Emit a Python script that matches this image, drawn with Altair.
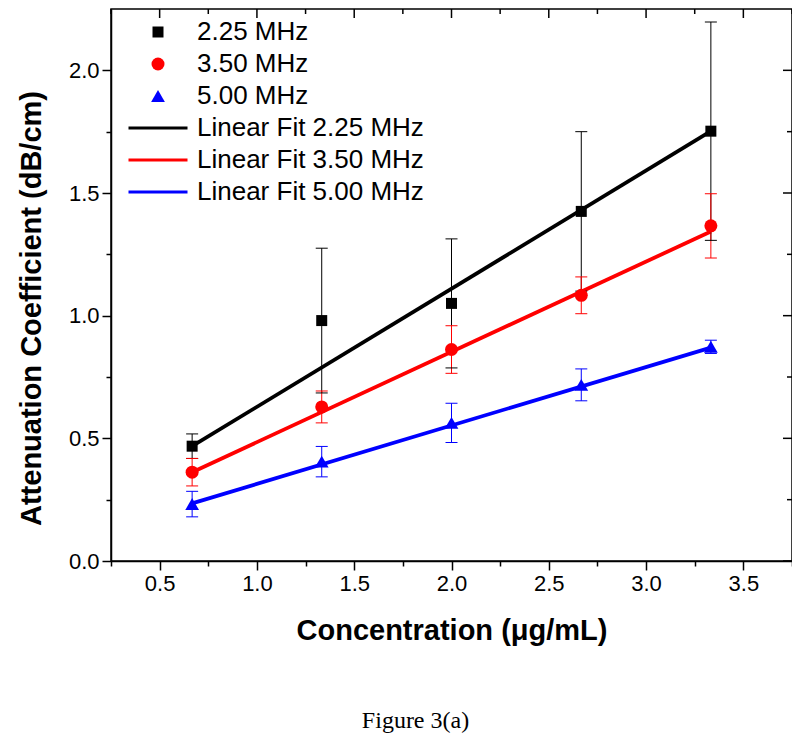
import altair as alt
import pandas as pd

# ---------------- data ----------------
conc = [0.667, 1.333, 2.0, 2.667, 3.333]
series = ["2.25 MHz", "3.50 MHz", "5.00 MHz"]
fit_labels = ["Linear Fit 2.25 MHz", "Linear Fit 3.50 MHz", "Linear Fit 5.00 MHz"]
colors = ["#000000", "#ff0000", "#0000ff"]

att_225 = [0.468, 0.980, 1.050, 1.425, 1.752]
err_225 = [0.050, 0.295, 0.263, 0.325, 0.445]
att_350 = [0.362, 0.628, 0.862, 1.083, 1.366]
err_350 = [0.056, 0.065, 0.097, 0.075, 0.131]
att_500 = [0.232, 0.405, 0.563, 0.718, 0.873]
err_500 = [0.052, 0.062, 0.080, 0.065, 0.027]

fit_x = [0.667, 3.333]
fit_225 = [0.468, 1.752]
fit_350 = [0.362, 1.343]
fit_500 = [0.235, 0.870]

x_ticks = [0.25, 0.5, 0.75, 1.0, 1.25, 1.5, 1.75, 2.0, 2.25, 2.5, 2.75, 3.0, 3.25, 3.5, 3.75]
y_ticks = [0.0, 0.25, 0.5, 0.75, 1.0, 1.25, 1.5, 1.75, 2.0]

# ---------------- tables ----------------
pts = pd.DataFrame({
    "conc": conc * 3,
    "att": att_225 + att_350 + att_500,
    "err": err_225 + err_350 + err_500,
    "series": [s for s in series for _ in conc],
})
pts["low"] = pts["att"] - pts["err"]
pts["high"] = pts["att"] + pts["err"]

fits = pd.DataFrame({
    "conc": fit_x * 3,
    "att": fit_225 + fit_350 + fit_500,
    "series": [s for s in series for _ in fit_x],
})

xt = pd.DataFrame({"v": x_ticks, "major": [round(v * 4) % 2 == 0 for v in x_ticks]})
yt = pd.DataFrame({"v": y_ticks, "major": [round(v * 4) % 2 == 0 for v in y_ticks]})

W, H = 681, 552
FONT = "Liberation Sans"
major_test = "round(datum.value * 4) % 2 === 0"

xscale = alt.Scale(domain=[0.25, 3.75], nice=False, zero=False)
yscale = alt.Scale(domain=[0.0, 2.25], nice=False, zero=False)

xaxis = alt.Axis(
    values=x_ticks,
    labelExpr="round(datum.value * 4) % 2 === 0 ? format(datum.value, '.1f') : ''",
    tickSize={"condition": {"test": major_test, "value": 9}, "value": 5},
    title="Concentration (\u03bcg/mL)",
    grid=False, labelOverlap=False, labelFlush=False,
    labelPadding=3, titlePadding=22,
)
yaxis = alt.Axis(
    values=y_ticks,
    labelExpr="round(datum.value * 4) % 2 === 0 ? format(datum.value, '.1f') : ''",
    tickSize={"condition": {"test": major_test, "value": 9}, "value": 5},
    title="Attenuation Coefficient (dB/cm)",
    grid=False, labelOverlap=False, labelFlush=False,
    labelPadding=3, titlePadding=22, titleY=299,
)

X = alt.X("conc:Q", scale=xscale, axis=xaxis)
Y = alt.Y("att:Q", scale=yscale, axis=yaxis)

stroke_enc = alt.Stroke("series:N", scale=alt.Scale(domain=series, range=colors), legend=None)
fill_enc = alt.Fill("series:N", scale=alt.Scale(domain=series, range=colors), legend=None)

legend_domain = series + fit_labels
LINE = "M-5.9,-0.32L5.9,-0.32L5.9,0.32L-5.9,0.32Z"
leg = alt.Legend(
    title=None, orient="none", legendX=34, legendY=10,
    labelFont=FONT, labelFontSize=26, labelColor="black", labelLimit=600,
    labelOffset=26, rowPadding=6, padding=0, symbolStrokeWidth=0,
)

fit_lines = alt.Chart(fits).mark_line(strokeWidth=3.8).encode(x=X, y=Y, stroke=stroke_enc)

err_rules = alt.Chart(pts).mark_rule(strokeWidth=1).encode(
    x=X, y=alt.Y("low:Q", scale=yscale), y2="high:Q", stroke=stroke_enc
)
cap_low = alt.Chart(pts).mark_tick(orient="horizontal", size=12, thickness=1, opacity=1).encode(
    x=X, y=alt.Y("low:Q", scale=yscale), fill=fill_enc
)
cap_high = alt.Chart(pts).mark_tick(orient="horizontal", size=12, thickness=1, opacity=1).encode(
    x=X, y=alt.Y("high:Q", scale=yscale), fill=fill_enc
)

points = alt.Chart(pts).mark_point(filled=True, opacity=1, strokeWidth=0).encode(
    x=X, y=Y,
    color=alt.Color("series:N", scale=alt.Scale(domain=legend_domain, range=colors * 2), legend=leg),
    shape=alt.Shape("series:N", scale=alt.Scale(domain=legend_domain,
                    range=["square", "circle", "triangle-up", LINE, LINE, LINE]), legend=leg),
    size=alt.Size("series:N", scale=alt.Scale(type="ordinal", domain=legend_domain,
                  range=[121, 169, 190, 100, 100, 100]), legend=leg),
)

# mirrored inward ticks on top and right frame
top_major = alt.Chart(xt[xt.major]).mark_tick(orient="vertical", size=9, thickness=1.5, opacity=1, color="black").encode(
    x=alt.X("v:Q", scale=xscale), y=alt.value(4.5))
top_minor = alt.Chart(xt[~xt.major]).mark_tick(orient="vertical", size=5, thickness=1.5, opacity=1, color="black").encode(
    x=alt.X("v:Q", scale=xscale), y=alt.value(2.5))
right_major = alt.Chart(yt[yt.major]).mark_tick(orient="horizontal", size=9, thickness=1.5, opacity=1, color="black").encode(
    y=alt.Y("v:Q", scale=yscale), x=alt.value(W - 4.5))
right_minor = alt.Chart(yt[~yt.major]).mark_tick(orient="horizontal", size=5, thickness=1.5, opacity=1, color="black").encode(
    y=alt.Y("v:Q", scale=yscale), x=alt.value(W - 2.5))

chart = alt.layer(
    fit_lines, err_rules, cap_low, cap_high, points,
    top_major, top_minor, right_major, right_minor,
).properties(
    width=W, height=H,
    autosize=alt.AutoSizeParams(type="none"),
    padding={"left": 103, "top": 1, "right": 0, "bottom": 180},
    title=alt.TitleParams("Figure 3(a)", orient="bottom", font="Liberation Serif",
                          fontSize=24, fontWeight="normal", color="black",
                          offset=64, dx=-36, anchor="middle"),
).configure_view(
    stroke="black", strokeWidth=1.5
).configure_axis(
    labelFont=FONT, labelFontSize=22, labelColor="black",
    titleFont=FONT, titleFontSize=29, titleFontWeight="bold", titleColor="black",
    domainColor="black", domainWidth=1.5, tickColor="black", tickWidth=1.5,
)

chart.save("out.html", embed_options={"renderer": "svg", "actions": False})
